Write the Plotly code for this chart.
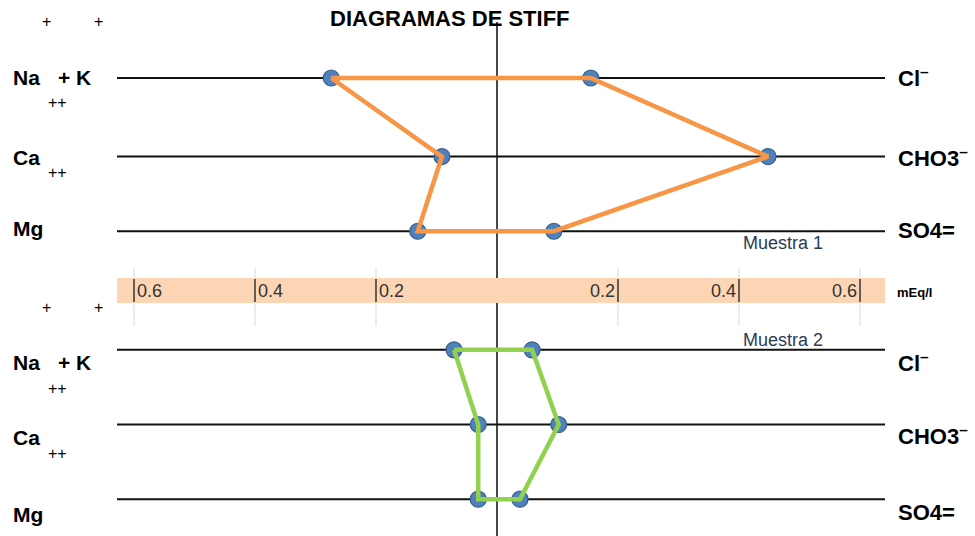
import plotly.graph_objects as go

# ---------------- data (mEq/l) ----------------
CATIONS = ["Na+K", "Ca", "Mg"]
ANIONS = ["Cl", "HCO3", "SO4"]
M1_CATIONS = [0.274, 0.091, 0.131]
M1_ANIONS = [0.155, 0.448, 0.094]
M2_CATIONS = [0.071, 0.031, 0.031]
M2_ANIONS = [0.058, 0.102, 0.038]
SCALE_TICKS = [0.2, 0.4, 0.6]
TICK_LABELS = ["0.2", "0.4", "0.6"]
SAMPLES = ["Muestra 1", "Muestra 2"]

# ---------------- layout helpers ----------------
W, H = 975, 536
CX, PXU = 497, 605.0          # centre pixel and pixels per mEq/l
ROW_PX = 77.0
FONT = "Liberation Sans, Arial, sans-serif"

def xd(px):
    return (px - CX) / PXU

def px_y(py):
    return 1 - py / H

XR = [xd(0), xd(W)]
YR = [(H - 78) / ROW_PX, -78 / ROW_PX]
ROWS1 = [0, 1.02, 1.99]
ROWS2 = [3.53, 4.5, 5.47]
LX0, LX1 = xd(117), xd(885)

fig = go.Figure()

samples = [(M1_CATIONS, M1_ANIONS, ROWS1, "#F79646"),
           (M2_CATIONS, M2_ANIONS, ROWS2, "#92D050")]
for cat, an, rows, col in samples:
    xs = [-v for v in cat] + list(reversed(an)) + [-cat[0]]
    ys = list(rows) + list(reversed(rows)) + [rows[0]]
    fig.add_trace(go.Scatter(x=xs[:-1], y=ys[:-1], mode="markers",
                             marker=dict(size=16, color="#4F81BD",
                                         line=dict(color="#385D8A", width=1.2)),
                             hoverinfo="skip", showlegend=False))
    fig.add_trace(go.Scatter(x=xs, y=ys, mode="lines",
                             line=dict(color=col, width=4.5),
                             hoverinfo="skip", showlegend=False))

shapes = []
# vertical centre line
shapes.append(dict(type="line", xref="x", yref="paper", x0=0, x1=0,
                   y0=px_y(22), y1=px_y(H), line=dict(color="#1a1a1a", width=1.6),
                   layer="below"))
# row lines
for r in ROWS1 + ROWS2:
    shapes.append(dict(type="line", xref="x", yref="y", x0=LX0, x1=LX1, y0=r, y1=r,
                       line=dict(color="#111111", width=2), layer="below"))
# gridlines of the scale
for t in SCALE_TICKS:
    for s in (-1, 1):
        shapes.append(dict(type="line", xref="x", yref="paper", x0=s * t, x1=s * t,
                           y0=px_y(326), y1=px_y(268),
                           line=dict(color="#D9D9D9", width=1), layer="below"))
# scale band
shapes.append(dict(type="rect", xref="x", yref="paper", x0=LX0, x1=LX1,
                   y0=px_y(303), y1=px_y(278), fillcolor="#FCD5B4",
                   line=dict(width=0), layer="below"))
# tick marks inside the band
for t in SCALE_TICKS:
    for s in (-1, 1):
        shapes.append(dict(type="line", xref="x", yref="paper", x0=s * t, x1=s * t,
                           y0=px_y(302), y1=px_y(279),
                           line=dict(color="#333333", width=1.5), layer="below"))

ann = []
def txt(text, px, py, size, bold=True, anchor="left", color="#000000"):
    ann.append(dict(text=("<b>%s</b>" % text) if bold else text,
                    xref="paper", yref="paper", x=px / W, y=px_y(py),
                    xanchor=anchor, yanchor="middle", showarrow=False,
                    font=dict(family=FONT, size=size, color=color)))

txt("DIAGRAMAS DE STIFF", 450, 19, 22, anchor="center")

# tick labels
for t, lab in zip(SCALE_TICKS, TICK_LABELS):
    ann.append(dict(text=lab, xref="x", yref="paper", x=-t, y=px_y(291),
                    xanchor="left", yanchor="middle", xshift=1, showarrow=False,
                    font=dict(family=FONT, size=18, color="#333333")))
    ann.append(dict(text=lab, xref="x", yref="paper", x=t, y=px_y(291),
                    xanchor="right", yanchor="middle", xshift=-1, showarrow=False,
                    font=dict(family=FONT, size=18, color="#333333")))
txt("mEq/l", 895, 292, 13)
txt(SAMPLES[0], 741, 243, 18, bold=False, color="#2b3a55")
txt(SAMPLES[1], 741, 340, 18, bold=False, color="#2b3a55")

# left labels (two blocks)
for off, (yna, yca, ymg) in ((0, (77, 157, 228)), (285, (77, 152, 229))):
    txt("+", 40, 22 + off, 16, bold=False)
    txt("+", 92, 22 + off, 16, bold=False)
    txt("Na", 11, yna + off, 21)
    txt("+ K", 56, yna + off, 21)
    txt("++", 46, yna + 26 + off, 16, bold=False)
    txt("Ca", 11, yca + off, 21)
    txt("++", 46, yca + 16 + off, 16, bold=False)
    txt("Mg", 11, ymg + off, 21)

# right labels
for off, (ycl, yhc, yso) in ((0, (77, 157, 230)), (285, (77, 150, 227))):
    txt("Cl<sup>–</sup>", 896, ycl + off, 22)
    txt("CHO3<sup>–</sup>", 896, yhc + off, 22)
    txt("SO4=", 896, yso + off, 22)

fig.update_layout(
    width=W, height=H, margin=dict(l=0, r=0, t=0, b=0),
    paper_bgcolor="white", plot_bgcolor="white",
    xaxis=dict(range=XR, visible=False, fixedrange=True),
    yaxis=dict(range=YR, visible=False, fixedrange=True),
    shapes=shapes, annotations=ann, showlegend=False,
)

fig.write_html("out.html", config={"displayModeBar": False},
               post_script="document.body.style.margin='0px';")
